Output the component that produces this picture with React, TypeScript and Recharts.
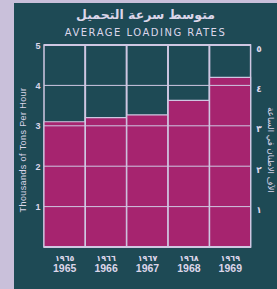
import { BarChart, Bar, XAxis, YAxis, ReferenceLine } from "recharts";

const YEARS = ["1965", "1966", "1967", "1968", "1969"];
const YEARS_AR = ["١٩٦٥", "١٩٦٦", "١٩٦٧", "١٩٦٨", "١٩٦٩"];
const LOADING_RATES = [3.1, 3.2, 3.27, 3.63, 4.2];
const Y_TICKS = [1, 2, 3, 4, 5];
const Y_TICKS_AR = ["١", "٢", "٣", "٤", "٥"];

const TITLE_AR = "متوسط سرعة التحميل";
const TITLE_EN = "AVERAGE LOADING RATES";
const Y_LABEL = "Thousands of Tons Per Hour";
const Y_LABEL_AR = "الآف الاطنان في الساعة";

const data = YEARS.map((year, i) => ({ year, ar: YEARS_AR[i], value: LOADING_RATES[i] }));

const PANEL = "#1e4a55";
const PINK = "#a6246f";
const LINE = "#cfc7e2";
const TEXT = "#dcd6ea";

function LeftTick({ x, y, payload }: any) {
  return (
    <text x={x - 6} y={y} dy={3.5} textAnchor="middle" fill={TEXT} fontSize={9} fontWeight="bold" fontFamily="Liberation Sans">
      {payload.value}
    </text>
  );
}

function YearTick({ x, y, payload }: any) {
  const i = YEARS.indexOf(payload.value);
  return (
    <g>
      <text x={x} y={y + 14} textAnchor="middle" fill={TEXT} fontSize={8} fontWeight="bold" fontFamily="DejaVu Sans">
        {YEARS_AR[i]}
      </text>
      <text x={x} y={y + 25} textAnchor="middle" fill={TEXT} fontSize={10.5} fontWeight="bold" fontFamily="Liberation Sans">
        {payload.value}
      </text>
    </g>
  );
}

function arabicTickLabel(i: number) {
  return ({ viewBox }: any) => (
    <text x={viewBox.x + viewBox.width + 8} y={viewBox.y + 4} textAnchor="middle" dominantBaseline="middle" fill={TEXT} fontSize={9} fontWeight="bold" fontFamily="DejaVu Sans">
      {Y_TICKS_AR[i]}
    </text>
  );
}

export default function App() {
  return (
    <div style={{ position: "absolute", left: 0, top: 0, width: 277, height: 289, background: "#c9c0da", overflow: "hidden" }}>
      <div style={{ position: "absolute", left: 14, top: 3, width: 263, height: 286, background: PANEL }}>
        <div style={{ position: "absolute", left: 0, top: 4, width: 263, textAlign: "center", color: TEXT, fontFamily: "DejaVu Sans", fontWeight: "bold", fontSize: 12.5, direction: "rtl", lineHeight: "16px" }}>
          {TITLE_AR}
        </div>
        <div style={{ position: "absolute", left: 0, top: 24, width: 263, textAlign: "center", color: TEXT, fontFamily: "DejaVu Sans", fontSize: 10, letterSpacing: 1.5, lineHeight: "12px" }}>
          {TITLE_EN}
        </div>
        <BarChart width={263} height={286} data={data} barCategoryGap={0} margin={{ top: 42, right: 26, bottom: 0, left: 0 }}>
          <XAxis dataKey="year" height={42} axisLine={false} tickLine={false} tickSize={0} tickMargin={0} tick={<YearTick />} interval={0} />
          <YAxis
            domain={[0, 5]}
            ticks={Y_TICKS}
            width={30}
            axisLine={false}
            tickLine={false}
            tickSize={0}
            tickMargin={0}
            tick={<LeftTick />}
            label={{
              content: ({ viewBox }: any) => {
                const cx = viewBox.x + 10;
                const cy = viewBox.y + viewBox.height / 2 + 4;
                return (
                  <text x={cx} y={cy} transform={`rotate(-90 ${cx} ${cy})`} textAnchor="middle" dominantBaseline="middle" fill={TEXT} fontSize={9} fontFamily="Liberation Sans" letterSpacing={0.4}>
                    {Y_LABEL}
                  </text>
                );
              },
            }}
          />
          <Bar
            dataKey="value"
            fill={PINK}
            stroke={LINE}
            strokeWidth={1.2}
            background={{ fill: "none", stroke: LINE, strokeWidth: 1.5 }}
            isAnimationActive={false}
          />
          {Y_TICKS.map((v, i) => (
            <ReferenceLine key={v} y={v} stroke={LINE} strokeWidth={v === 5 ? 2 : 1} label={{ content: arabicTickLabel(i) }} />
          ))}
          <ReferenceLine y={0} stroke={LINE} strokeWidth={2} />
          <ReferenceLine
            y={2.5}
            stroke="none"
            label={{
              content: ({ viewBox }: any) => {
                const cx = viewBox.x + viewBox.width + 19;
                const cy = viewBox.y + 4;
                return (
                  <text x={cx} y={cy} transform={`rotate(90 ${cx} ${cy})`} textAnchor="middle" dominantBaseline="middle" fill={TEXT} fontSize={8.5} fontFamily="DejaVu Sans" direction="rtl">
                    {Y_LABEL_AR}
                  </text>
                );
              },
            }}
          />
        </BarChart>
      </div>
    </div>
  );
}
